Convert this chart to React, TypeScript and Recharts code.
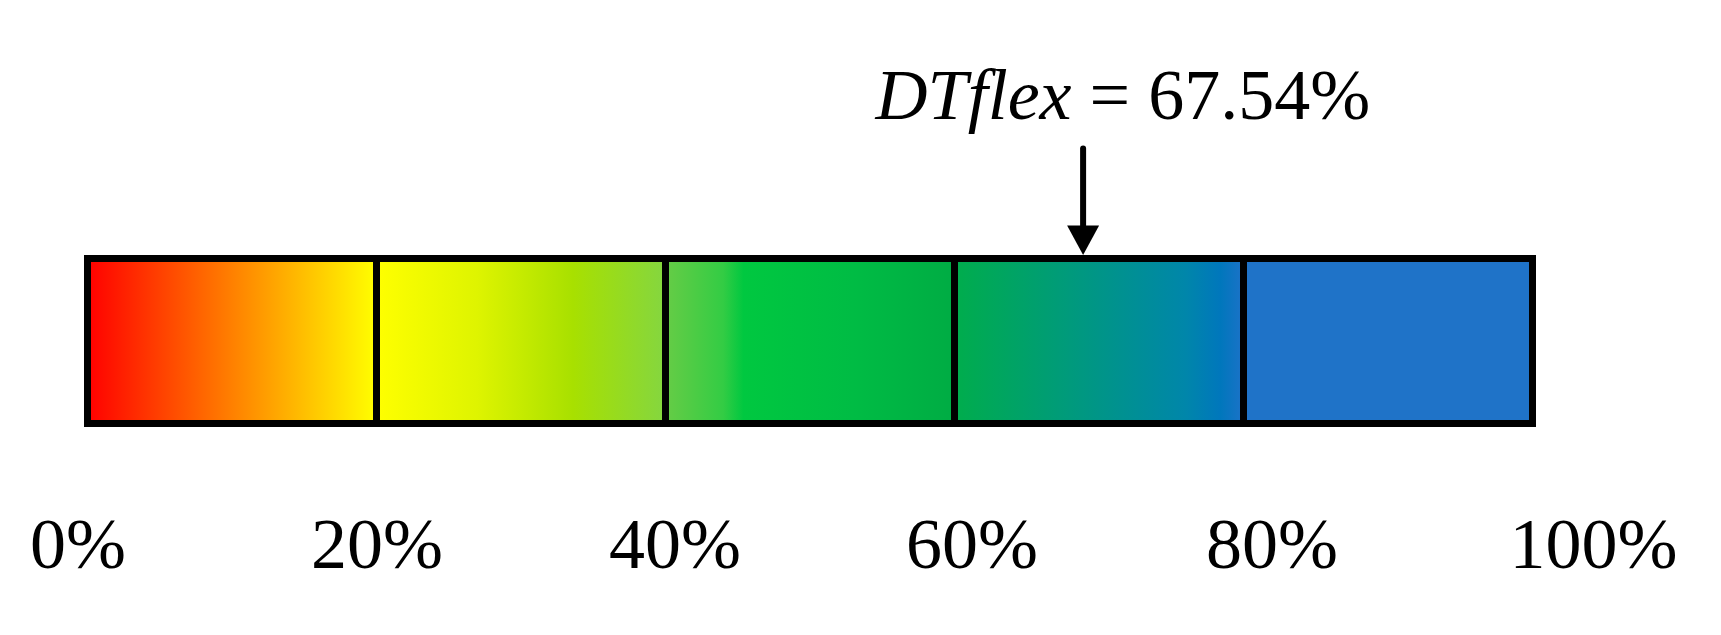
import React from "react";
import {
  BarChart,
  Bar,
  XAxis,
  YAxis,
  ReferenceLine,
} from "recharts";

// one row, five equal bands of the flexibility scale
const categories = ["DTflex"];
const bandKeys = ["b1", "b2", "b3", "b4", "b5"];
const bandValues = [20, 20, 20, 20, 20];
const tickValues = [0, 20, 40, 60, 80, 100];
const tickLabels = ["0%", "20%", "40%", "60%", "80%", "100%"];
const dtflexLabel = "67.54%";
// where the arrow sits on the scale
const arrowPosition = 68.9;

// gradient stops per band: [offset, colour]
const bandGradients: [number, string][][] = [
  [[0, "#ff0000"], [0.5, "#ff8000"], [1, "#ffff00"]],
  [[0, "#ffff00"], [0.35, "#def400"], [0.68, "#a8e000"], [1, "#84d640"]],
  [[0, "#66cc46"], [0.2, "#33cc44"], [0.27, "#00c840"], [0.65, "#00bc44"], [1, "#00ac44"]],
  [[0, "#00ad4c"], [0.4, "#009a7c"], [0.8, "#0086aa"], [0.92, "#0077bc"], [1, "#1c72c8"]],
  [[0, "#1f73c8"], [1, "#1f73c8"]],
];

// small nudges so the labels sit where they do in the figure
const tickShift = [-9.5, 0.5, 9.5, 17.5, 28.5, 61];

const FONT = "'Liberation Serif', 'Times New Roman', serif";

const data = categories.map((name) => {
  const row: Record<string, string | number> = { name };
  bandKeys.forEach((k, i) => {
    row[k] = bandValues[i];
  });
  return row;
});

const TickLabel = (props: any) => {
  const { x, y, payload } = props;
  const i = tickValues.indexOf(payload.value);
  return (
    <text
      x={x + (tickShift[i] || 0)}
      y={y + 144.8}
      textAnchor="middle"
      fontFamily={FONT}
      fontSize={72}
      fill="#000"
    >
      {tickLabels[i]}
    </text>
  );
};

const ArrowMarker = (props: any) => {
  const { x1, y1, y2 } = props;
  const top = Math.min(y1, y2);
  const tip = top - 3.5;
  return (
    <g>
      <line
        x1={x1}
        x2={x1}
        y1={top - 110}
        y2={top - 30}
        stroke="#000"
        strokeWidth={6}
        strokeLinecap="round"
      />
      <path
        d={`M ${x1 - 16} ${top - 33} L ${x1 + 16} ${top - 33} L ${x1} ${tip} Z`}
        fill="#000"
      />
      <text
        x={x1 - 207.5}
        y={top - 140}
        fontFamily={FONT}
        fontSize={72}
        fill="#000"
      >
        <tspan fontStyle="italic">DTflex</tspan>
        <tspan>{` = ${dtflexLabel}`}</tspan>
      </text>
    </g>
  );
};

export default function App() {
  return (
    <div style={{ width: 1713, height: 627, background: "#fff" }}>
      <BarChart
        width={1713}
        height={627}
        data={data}
        layout="vertical"
        barCategoryGap={0}
        margin={{ top: 250.5, right: 188.5, left: 79.5, bottom: 151.5 }}
      >
        <defs>
          {bandGradients.map((stops, i) => (
            <linearGradient key={i} id={`band-${i}`} x1="0" y1="0" x2="1" y2="0">
              {stops.map(([off, col], j) => (
                <stop key={j} offset={off} stopColor={col} />
              ))}
            </linearGradient>
          ))}
        </defs>
        <XAxis
          type="number"
          domain={[0, 100]}
          ticks={tickValues}
          axisLine={false}
          tickLine={false}
          tickSize={0}
          tickMargin={0}
          height={60}
          interval={0}
          tick={<TickLabel />}
        />
        <YAxis type="category" dataKey="name" hide />
        {bandKeys.map((k, i) => (
          <Bar
            key={k}
            dataKey={k}
            stackId="scale"
            fill={`url(#band-${i})`}
            stroke="#000"
            strokeWidth={7}
            isAnimationActive={false}
          />
        ))}
        <ReferenceLine x={arrowPosition} shape={<ArrowMarker />} />
      </BarChart>
    </div>
  );
}
